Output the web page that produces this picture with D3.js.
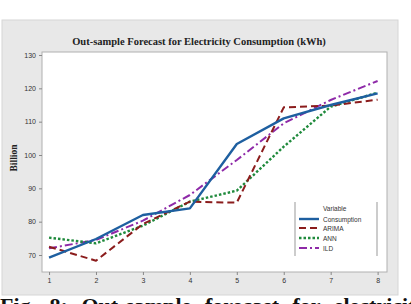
<!DOCTYPE html>
<html lang="en">
<head>
<meta charset="UTF-8">
<title>Out-sample Forecast</title>
<script src="https://d3js.org/d3.v7.min.js"></script>
<style>
  body { margin: 0; background: #fff; }
  svg { display: block; }
</style>
</head>
<body>
<svg id="chart"></svg>
<script>
// data
const periods = [1, 2, 3, 4, 5, 6, 7, 8];
const consumption = [69.2, 74.8, 82, 84, 103.3, 111, 115, 118.5];
const arima = [72.5, 68.3, 79.3, 86, 85.7, 114.3, 114.8, 116.6];
const ann = [75.2, 73.5, 78.8, 86, 89.3, 102.5, 114.5, 118.7];
const ild = [72, 74.5, 80.3, 88, 98.5, 109.5, 116.5, 122.2];
const yTicks = [70, 80, 90, 100, 110, 120, 130];
const seriesNames = ["Consumption", "ARIMA", "ANN", "ILD"];

const W = 411, H = 304;
const svg = d3.select("#chart").attr("width", W).attr("height", H);

// grey panel
svg.append("rect")
  .attr("x", 2).attr("y", 20).attr("width", 396).attr("height", 275)
  .attr("fill", "#e8e8e8").attr("stroke", "#d6d6d6");

// plot area
const pLeft = 42, pTop = 52, pRight = 387, pBottom = 272;
svg.append("rect")
  .attr("x", pLeft).attr("y", pTop).attr("width", pRight - pLeft).attr("height", pBottom - pTop)
  .attr("fill", "#fff").attr("stroke", "#b0b0b0");

const x = d3.scaleLinear().domain([0.85, 8.2]).range([pLeft, pRight]);
const y = d3.scaleLinear().domain([64.9, 130.9]).range([pBottom, pTop]);

// axes
const xAxis = svg.append("g").attr("transform", "translate(0," + pBottom + ")")
  .call(d3.axisBottom(x).tickValues(periods).tickSize(3).tickPadding(3));
const yAxis = svg.append("g").attr("transform", "translate(" + pLeft + ",0)")
  .call(d3.axisLeft(y).tickValues(yTicks).tickSize(3).tickPadding(3));
[xAxis, yAxis].forEach(function(a) {
  a.select(".domain").remove();
  a.selectAll("line").attr("stroke", "#888");
  a.selectAll("text").attr("font-family", "Liberation Sans, Arial, sans-serif")
    .attr("font-size", 7).attr("fill", "#333");
});

// title
svg.append("text")
  .attr("x", 199).attr("y", 45).attr("text-anchor", "middle")
  .attr("font-family", "Liberation Serif, Times New Roman, serif")
  .attr("font-weight", "bold").attr("font-size", 10.5).attr("fill", "#222")
  .text("Out-sample Forecast for Electricity Consumption (kWh)");

// y label
svg.append("text")
  .attr("transform", "translate(17,158) rotate(-90)")
  .attr("text-anchor", "middle")
  .attr("font-family", "Liberation Serif, Times New Roman, serif")
  .attr("font-weight", "bold").attr("font-size", 9.5).attr("fill", "#222")
  .text("Billion");

// series
const styles = [
  { color: "#1e5fa0", width: 2.4, dash: null },
  { color: "#8b1c1c", width: 2, dash: "7,4" },
  { color: "#1f8a3c", width: 2.4, dash: "2.5,2" },
  { color: "#8e2aa8", width: 2, dash: "8,3,2,3" }
];
const allSeries = [consumption, arima, ann, ild];

const line = d3.line()
  .x(function(d, i) { return x(periods[i]); })
  .y(function(d) { return y(d); });

// draw ILD first so consumption sits on top, like the picture
[3, 2, 1, 0].forEach(function(k) {
  svg.append("path")
    .attr("d", line(allSeries[k]))
    .attr("fill", "none")
    .attr("stroke", styles[k].color)
    .attr("stroke-width", styles[k].width)
    .attr("stroke-dasharray", styles[k].dash)
    .attr("stroke-linejoin", "round");
});

// legend
const lg = svg.append("g");
lg.append("rect").attr("x", 295).attr("y", 202).attr("width", 82).attr("height", 54).attr("fill", "#fff");
lg.append("line").attr("x1", 295).attr("x2", 295).attr("y1", 202).attr("y2", 256).attr("stroke", "#999");
lg.append("line").attr("x1", 377).attr("x2", 377).attr("y1", 202).attr("y2", 256).attr("stroke", "#999");
lg.append("text").attr("x", 323).attr("y", 211)
  .attr("font-family", "Liberation Sans, Arial, sans-serif").attr("font-size", 6.5).attr("fill", "#333")
  .text("Variable");
const rowY = [219, 228, 238, 248];
seriesNames.forEach(function(name, k) {
  lg.append("line")
    .attr("x1", 299).attr("x2", 319).attr("y1", rowY[k]).attr("y2", rowY[k])
    .attr("stroke", styles[k].color).attr("stroke-width", styles[k].width)
    .attr("stroke-dasharray", styles[k].dash);
  lg.append("text").attr("x", 323).attr("y", rowY[k] + 2.5)
    .attr("font-family", "Liberation Sans, Arial, sans-serif").attr("font-size", 6.5).attr("fill", "#333")
    .text(name);
});

// caption (cut off at the bottom of the picture, as in the source)
svg.append("text")
  .attr("x", 0).attr("y", 313)
  .attr("font-family", "Liberation Serif, Times New Roman, serif")
  .attr("font-weight", "bold").attr("font-size", 22).attr("fill", "#111")
  .attr("word-spacing", 8)
  .text("Fig. 8: Out-sample forecast for electricity consumption");
</script>
</body>
</html>
